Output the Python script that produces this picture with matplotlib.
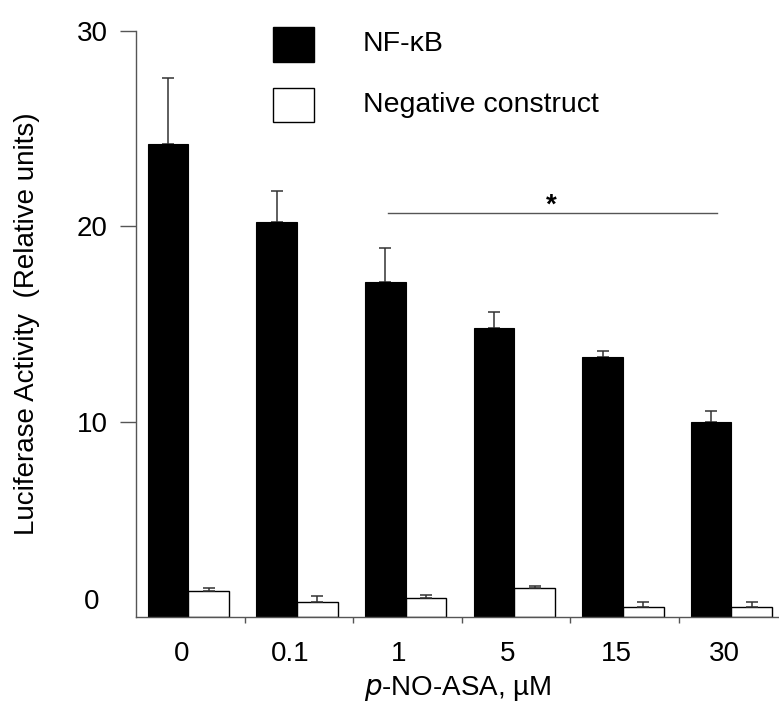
import matplotlib
matplotlib.use("Agg")
import matplotlib.pyplot as plt
from matplotlib.patches import Rectangle
from matplotlib.transforms import offset_copy
import numpy as np

plt.rcParams['font.family'] = ['Liberation Sans', 'DejaVu Sans']

categories = ["0", "0.1", "1", "5", "15", "30"]
nfkb = [24.2, 20.2, 17.15, 14.77, 13.3, 10.0]
nfkb_err = [3.4, 1.6, 1.75, 0.85, 0.3, 0.55]
neg = [1.32, 0.79, 0.96, 1.47, 0.53, 0.53]
neg_err = [0.14, 0.29, 0.15, 0.14, 0.22, 0.22]
sig_y = 20.67
sig_label = "*"

W, H = 779, 713
FS = 20
fig = plt.figure(figsize=(W / 100, H / 100), dpi=100)
ax = fig.add_axes([136 / W, (H - 617) / H, (W - 136) / W, 586 / H])

x = np.arange(len(categories))
bw = 0.375
axis_col = "#555555"
err_col = "#333333"

ax.bar(x - 0.205, nfkb, bw, color="black", edgecolor="black", linewidth=0.8, zorder=2)
ax.bar(x + 0.17, neg, bw, color="white", edgecolor="black", linewidth=1.0, zorder=2)
ax.errorbar(x - 0.205, nfkb, yerr=[np.zeros(len(x)), nfkb_err], fmt="none",
            ecolor=err_col, elinewidth=1.1, capsize=4, capthick=1.1, zorder=1)
ax.errorbar(x + 0.17, neg, yerr=[np.zeros(len(x)), neg_err], fmt="none",
            ecolor=err_col, elinewidth=1.1, capsize=4, capthick=1.1, zorder=3)

ax.set_xlim(-0.5, 5.42)
ax.set_ylim(0, 30)

for s in ["top", "right"]:
    ax.spines[s].set_visible(False)
for s in ["left", "bottom"]:
    ax.spines[s].set_color(axis_col)
    ax.spines[s].set_linewidth(1.0)

# y ticks
ax.set_yticks([10, 20, 30])
ax.set_yticklabels(["10", "20", "30"])
ax.tick_params(axis="y", direction="out", length=11.5, width=1.0, color=axis_col,
               labelsize=FS, pad=9)
tr0 = offset_copy(ax.get_yaxis_transform(), fig=fig, x=-37 * 0.72, y=0, units="points")
ax.text(0, 0.77, "0", transform=tr0, ha="right", va="center", fontsize=FS)

# x ticks: labels at pair centres, minor ticks at group boundaries
ax.set_xticks(x - 0.08)
ax.set_xticklabels(categories)
ax.set_xticks(np.arange(0.5, 5.5, 1.0), minor=True)
ax.tick_params(axis="x", which="major", length=0, labelsize=FS, pad=17)
ax.tick_params(axis="x", which="minor", direction="out", length=4.5, width=1.0, color=axis_col)

ax.set_xlabel("$\\mathit{p}$-NO-ASA, \u00b5M", fontsize=FS, labelpad=5)
ax.set_ylabel("Luciferase Activity  (Relative units)", fontsize=FS, labelpad=26)

# significance line
ax.plot([x[2] - 0.18, x[5] - 0.15], [sig_y, sig_y], color=axis_col, linewidth=1.0)
ax.text((x[2] + x[5]) / 2 - 0.18, sig_y - 0.3, sig_label, ha="center", va="bottom",
        fontsize=20, fontweight="bold")

# legend (manual)
def fig_rect(x0, y0, x1, y1, fc):
    fig.patches.append(Rectangle((x0 / W, 1 - y1 / H), (x1 - x0) / W, (y1 - y0) / H,
                                 transform=fig.transFigure, facecolor=fc,
                                 edgecolor="black", linewidth=1.0))

fig_rect(273, 27, 314, 62, "black")
fig_rect(273, 88, 314, 122, "white")
fig.text(363 / W, 1 - 44 / H, "NF-\u03baB", ha="left", va="center", fontsize=20.5)
fig.text(363 / W, 1 - 105 / H, "Negative construct", ha="left", va="center", fontsize=20.5)

fig.savefig("out.png", dpi=100)
